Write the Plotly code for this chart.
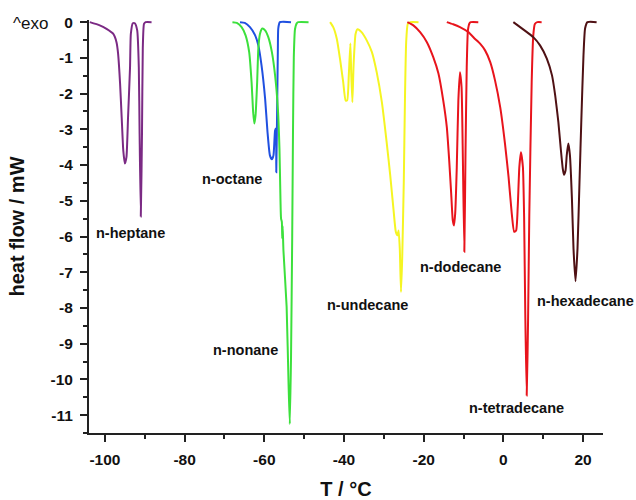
import plotly.graph_objects as go

# ---------------- data ----------------
heptane_T = [-103.8, -101.3, -99.6, -97.9, -97.1, -96.7, -96.2, -95.8, -95.4, -95.0, -94.6, -94.2,
             -93.7, -93.5, -93.0, -92.5, -91.9, -91.5, -91.3, -91.0, -90.7, -90.5, -90.2, -89.8, -88.3]
heptane_HF = [0.0, -0.09, -0.19, -0.33, -0.56, -0.88, -1.72, -2.66, -3.59, -3.96, -3.78, -2.66,
              -1.26, -0.33, -0.03, -0.03, -0.23, -1.26, -3.12, -5.44, -3.12, -0.73, -0.05, 0.0, 0.0]

octane_T = [-66.1, -64.9, -63.6, -62.3, -61.5, -60.7, -59.8, -59.2, -58.6, -58.1, -57.7, -57.3,
            -57.1, -57.0, -56.8, -56.6, -56.5, -56.1, -53.3]
octane_HF = [0.0, -0.02, -0.14, -0.37, -0.65, -1.21, -2.14, -3.08, -3.73, -3.84, -3.73, -3.03,
             -2.98, -4.20, -2.61, -0.74, -0.18, 0.0, 0.0]

nonane_T = [-68.0, -66.9, -65.7, -64.7, -63.8, -63.2, -62.8, -62.5, -62.2, -61.8, -61.5, -61.1,
            -60.5, -59.8, -59.0, -58.1, -57.3, -56.6, -56.2, -56.0, -55.8, -55.6, -55.5, -55.4,
            -55.2, -54.4, -53.9, -53.6, -53.3, -53.0, -52.8, -52.6, -52.3, -51.8, -51.5, -48.9]
nonane_HF = [0.0, -0.02, -0.14, -0.37, -0.84, -1.68, -2.52, -2.84, -2.61, -1.68, -0.74, -0.33,
             -0.18, -0.23, -0.42, -0.84, -1.49, -2.42, -3.54, -4.66, -5.50, -5.59, -6.05, -5.70,
             -6.39, -7.97, -10.2, -11.25, -9.4, -6.0, -3.0, -1.0, -0.2, -0.02, 0.0, 0.0]

undecane_T = [-43.5, -42.7, -41.8, -41.0, -40.2, -39.6, -39.2, -38.8, -38.4, -38.2, -37.9, -37.6,
              -37.1, -36.6, -35.6, -34.3, -33.0, -31.8, -30.5, -29.3, -28.4, -27.6, -27.0, -26.6,
              -26.3, -26.0, -25.7, -25.4, -25.0, -24.7, -24.4, -24.0, -23.4, -21.3]
undecane_HF = [0.0, -0.14, -0.47, -1.03, -1.68, -2.19, -2.19, -1.49, -0.60, -1.40, -2.24, -1.21,
               -0.33, -0.20, -0.28, -0.51, -0.84, -1.40, -2.24, -3.36, -4.29, -5.22, -5.87, -5.97,
               -5.83, -6.34, -7.55, -6.62, -4.48, -2.14, -0.56, -0.05, 0.0, 0.0]

dodecane_T = [-24.1, -22.6, -20.9, -19.2, -17.6, -16.3, -15.1, -14.2, -13.6, -13.1, -12.7, -12.4,
              -12.1, -11.7, -11.3, -10.9, -10.5, -10.2, -9.8, -9.5, -9.2, -8.9, -8.5, -8.2, -6.3]
dodecane_HF = [0.0, -0.09, -0.28, -0.56, -0.98, -1.44, -2.19, -2.94, -3.87, -4.80, -5.55, -5.69,
               -5.36, -4.06, -2.19, -1.40, -1.82, -3.59, -6.43, -3.59, -1.26, -0.23, -0.03, 0.0, 0.0]

tetradecane_T = [-14.2, -12.6, -10.9, -8.8, -7.1, -5.8, -4.6, -3.3, -2.1, -0.8, 0.4, 1.3, 2.1,
                 2.7, 3.2, 3.6, 4.0, 4.4, 4.9, 5.2, 5.5, 5.85, 6.2, 6.5, 7.1, 7.5, 7.9, 8.5, 9.6]
tetradecane_HF = [0.0, -0.06, -0.14, -0.28, -0.47, -0.61, -0.79, -1.12, -1.63, -2.38, -3.40,
                  -4.34, -5.36, -5.87, -5.83, -5.17, -4.06, -3.64, -4.06, -5.45, -8.2, -10.45,
                  -8.3, -5.41, -1.68, -0.37, -0.05, 0.0, 0.0]

hexadecane_T = [2.5, 4.2, 5.9, 7.5, 9.2, 10.9, 12.2, 13.0, 13.8, 14.4, 14.9, 15.2, 15.6, 15.9,
                16.3, 16.7, 17.2, 17.6, 18.1, 18.6, 19.1, 19.6, 20.1, 20.5, 21.1, 23.4]
hexadecane_HF = [0.0, -0.14, -0.28, -0.42, -0.65, -1.02, -1.49, -2.05, -2.80, -3.54, -4.10, -4.27,
                 -4.15, -3.73, -3.40, -3.73, -4.94, -6.34, -7.25, -6.34, -4.48, -2.61, -0.93,
                 -0.18, 0.0, 0.0]

labels = ["n-heptane", "n-octane", "n-nonane", "n-undecane", "n-dodecane",
          "n-tetradecane", "n-hexadecane"]
label_T = [-93.6, -68.2, -64.65, -34.1, -10.7, 3.2, 20.5]
label_HF = [-5.91, -4.40, -9.18, -7.92, -6.85, -10.81, -7.80]

x_tick_vals = [-100, -80, -60, -40, -20, 0, 20]
x_tick_text = ["-100", "-80", "-60", "-40", "-20", "0", "20"]
y_tick_vals = [0, -1, -2, -3, -4, -5, -6, -7, -8, -9, -10, -11]
y_tick_text = ["0", "-1", "-2", "-3", "-4", "-5", "-6", "-7", "-8", "-9", "-10", "-11"]

# ---------------- figure ----------------
series = [
    (heptane_T, heptane_HF, "#7B2A84"),
    (octane_T, octane_HF, "#2050E0"),
    (nonane_T, nonane_HF, "#3CE03C"),
    (undecane_T, undecane_HF, "#F5F522"),
    (dodecane_T, dodecane_HF, "#E8141C"),
    (tetradecane_T, tetradecane_HF, "#E8141C"),
    (hexadecane_T, hexadecane_HF, "#4F1114"),
]

fig = go.Figure()
for xs, ys, col in series:
    fig.add_trace(go.Scatter(x=xs, y=ys, mode="lines",
                             line=dict(color=col, width=2, shape="spline", smoothing=0.5),
                             hoverinfo="skip"))

FONT = "Liberation Sans, Arial, sans-serif"

for txt, tx, ty in zip(labels, label_T, label_HF):
    fig.add_annotation(x=tx, y=ty, text=txt, showarrow=False, xref="x", yref="y",
                       xanchor="center", yanchor="middle",
                       font=dict(family=FONT, size=14.5, color="#111", weight="bold"))

fig.add_annotation(x=-0.114, y=-0.04, xref="paper", yref="y", text="^exo", showarrow=False,
                   xanchor="center", yanchor="middle",
                   font=dict(family=FONT, size=17, color="#111"))

axis_common = dict(showline=True, linecolor="#222", linewidth=2, ticks="outside", ticklen=7,
                   tickwidth=2, tickcolor="#222", showgrid=False, zeroline=False,
                   ticklabelstandoff=4, automargin=False,
                   tickfont=dict(family=FONT, size=15.5, color="#111", weight="bold"))

fig.update_layout(
    width=636, height=500,
    margin=dict(l=89, r=33, t=20, b=67, autoexpand=False),
    plot_bgcolor="white", paper_bgcolor="white",
    showlegend=False,
    font=dict(family=FONT, color="#111"),
    xaxis=dict(range=[-104, 25], tickvals=x_tick_vals, ticktext=x_tick_text,
               minor=dict(dtick=10, tick0=0, ticks="outside", ticklen=4, tickwidth=2,
                          tickcolor="#222", showgrid=False),
               title=dict(text="T / °C", standoff=24,
                          font=dict(family=FONT, size=20, color="#111", weight="bold")),
               **axis_common),
    yaxis=dict(range=[-11.5, 0.06], tickvals=y_tick_vals, ticktext=y_tick_text,
               minor=dict(dtick=0.5, tick0=0, ticks="outside", ticklen=4, tickwidth=2,
                          tickcolor="#222", showgrid=False),
               title=dict(text="heat flow / mW", standoff=20,
                          font=dict(family=FONT, size=20, color="#111", weight="bold")),
               **axis_common),
)

fig.write_html("out.html")
